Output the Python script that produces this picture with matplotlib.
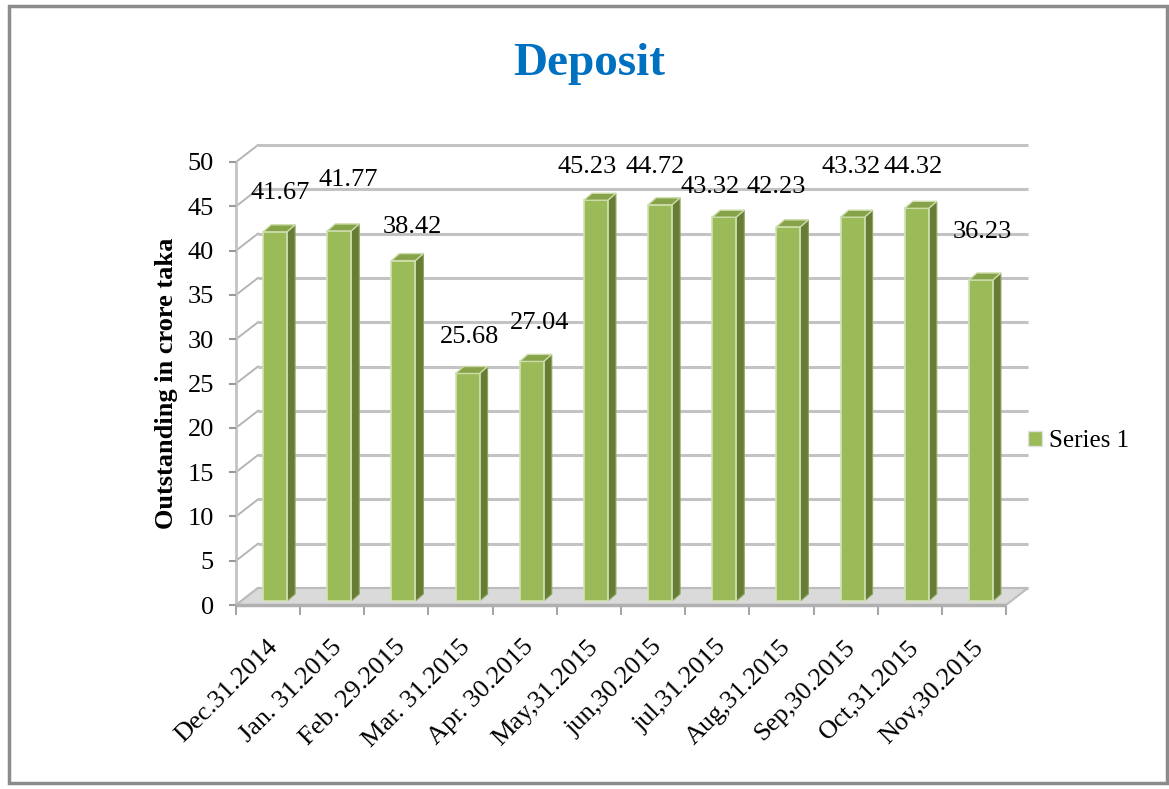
import numpy as np
import matplotlib
matplotlib.use('Agg')
import matplotlib.pyplot as plt
from matplotlib.patches import Polygon, Rectangle, Patch
from matplotlib.transforms import offset_copy

# ---------------- data ----------------
categories = ['Dec.31.2014', 'Jan. 31.2015', 'Feb. 29.2015', 'Mar. 31.2015',
              'Apr. 30.2015', 'May,31.2015', 'jun,30.2015', 'jul,31.2015',
              'Aug,31.2015', 'Sep,30.2015', 'Oct,31.2015', 'Nov,30.2015']
values = [41.67, 41.77, 38.42, 25.68, 27.04, 45.23, 44.72, 43.32,
          42.23, 43.32, 44.32, 36.23]
y_ticks = [0, 5, 10, 15, 20, 25, 30, 35, 40, 45, 50]
series_name = 'Series 1'
title_text = 'Deposit'
y_label = 'Outstanding in crore taka'

# data-label nudges (pixels, relative to bar top) - layout only
label_dx = [12, 16, 16, 9, 15, -2, 2, -7, -5, 6, 3, 8]
label_dy = [43, 55, 38, 40, 42, 37, 42, 34, 44, 54, 45, 52]

# ---------------- style ----------------
plt.rcParams['font.family'] = ['Liberation Serif', 'DejaVu Serif']
W, H = 1169, 789
FRONT = '#9BBB59'
SIDE = '#677D36'
TOP = '#86A349'
GRID = '#c3c3c3'
DX, DY = 22, 17        # depth of the plot box (pixels)
BX, BY = 7, 4          # bar front plane offset (pixels)
SX, SY = 8, 7          # bar depth (pixels)
BAR_W = 0.374

fig = plt.figure(figsize=(W / 100, H / 100), dpi=100)
fig.patch.set_facecolor('white')
ax = fig.add_axes([236 / W, 1 - 605 / H, 770 / W, 443 / H])
ax.set_xlim(-0.5, len(categories) - 0.5)
ax.set_ylim(0, 50)
ax.patch.set_alpha(0)
for s in ['top', 'right', 'bottom']:
    ax.spines[s].set_visible(False)
ax.spines['left'].set_color('#c3c3c3')
ax.spines['left'].set_linewidth(2)
ax.spines['left'].set_zorder(1)

fig.canvas.draw()
to_disp = ax.transData.transform
to_data = ax.transData.inverted().transform


def shift(pt, dx, dy):
    p = to_disp(pt)
    return tuple(to_data((p[0] + dx, p[1] + dy)))


back = offset_copy(ax.transData, fig=fig, x=DX, y=DY, units='dots')
xmin, xmax = -0.5, len(categories) - 0.5

# back wall gridlines
for v in y_ticks:
    ax.plot([xmin, xmax], [v, v], transform=back, color=GRID, lw=2.2,
            clip_on=False, zorder=1, solid_capstyle='butt')
    # side wall lines
    p1 = shift((xmin, v), DX, DY)
    ax.plot([xmin, p1[0]], [v, p1[1]], color='#b5b5b5', lw=1.4,
            clip_on=False, zorder=1)

# floor
fl = [(xmin, 0), (xmax, 0), shift((xmax, 0), DX, DY), shift((xmin, 0), DX, DY)]
ax.add_patch(Polygon(fl, closed=True, facecolor='#dadada', edgecolor='#bcbcbc',
                     lw=1.5, zorder=2, clip_on=False))
ax.plot([xmin, xmax], [0, 0], color='#b0b0b0', lw=2.5, zorder=2, clip_on=False,
        solid_capstyle='butt')

# ticks
ax.set_yticks(y_ticks)
ax.set_yticklabels([str(t) for t in y_ticks], fontsize=19)
ax.tick_params(axis='y', length=5, width=1.5, color='#9a9a9a', pad=11)
ax.set_xticks(np.arange(xmin, xmax + 0.01, 1))
ax.set_xticklabels([])
ax.tick_params(axis='x', length=7, width=1.5, color='#a6a6a6', direction='out')

# bars (front faces)
x = np.arange(len(categories))
bar_tr = offset_copy(ax.transData, fig=fig, x=BX, y=BY, units='dots')
ax.bar(x, values, width=BAR_W, color=FRONT, edgecolor='#d3e2b6', lw=1.2,
       transform=bar_tr, zorder=4, clip_on=False)

for i, v in enumerate(values):
    xl, xr = i - BAR_W / 2, i + BAR_W / 2
    fr_b = shift((xr, 0), BX, BY)
    fr_t = shift((xr, v), BX, BY)
    fl_t = shift((xl, v), BX, BY)
    side = [fr_b, fr_t, shift((xr, v), BX + SX, BY + SY), shift((xr, 0), BX + SX, BY + SY)]
    top = [fl_t, fr_t, shift((xr, v), BX + SX, BY + SY), shift((xl, v), BX + SX, BY + SY)]
    ax.add_patch(Polygon(side, closed=True, facecolor=SIDE, edgecolor='#8fa65c',
                         lw=0.8, zorder=3, clip_on=False))
    ax.add_patch(Polygon(top, closed=True, facecolor=TOP, edgecolor='#cddcaa',
                         lw=1.0, zorder=5, clip_on=False))
    ax.annotate(f'{v:.2f}', xy=(i, v), xytext=(label_dx[i], label_dy[i]),
                textcoords='offset pixels', ha='center', va='center',
                fontsize=19, zorder=6, annotation_clip=False)
    ax.annotate(categories[i], xy=(i, 0), xytext=(-2, -31),
                textcoords='offset pixels', ha='right', va='top',
                rotation=45, rotation_mode='anchor', fontsize=19,
                annotation_clip=False)

# y label
fig.text(166 / W, 1 - 383 / H, y_label, rotation=90, ha='center', va='center',
         fontsize=19, fontweight='bold')

# title
fig.text(589 / W, 1 - 64 / H, title_text, ha='center', va='center',
         fontsize=34, fontweight='bold', color='#0070C0')

# legend
fig.legend(handles=[Patch(facecolor=FRONT, edgecolor='#e0e0e0')],
           labels=[series_name], loc='center left',
           bbox_to_anchor=(1028 / W, 1 - 441 / H), frameon=False,
           borderaxespad=0, borderpad=0,
           handlelength=0.55, handleheight=0.55, handletextpad=0.3,
           prop={'size': 18})

# outer border
fig.add_artist(Rectangle((9 / W, 1 - 783 / H), (1167 - 9) / W, (783 - 6) / H,
                         transform=fig.transFigure, fill=False,
                         edgecolor='#8c8c8c', lw=2.5))

fig.savefig('out.png', dpi=100)
